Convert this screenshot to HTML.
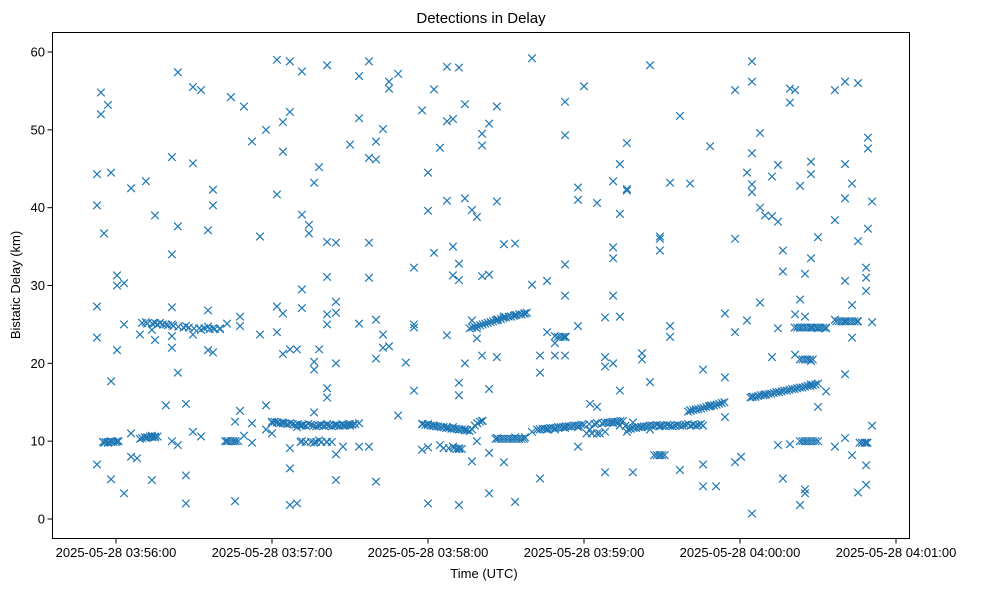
<!DOCTYPE html>
<html><head><meta charset="utf-8"><style>
body{margin:0;background:#fff;}
svg{display:block;font-family:"Liberation Sans","DejaVu Sans",sans-serif;}
</style></head><body>
<svg id="chart" width="989" height="590">
<rect x="0" y="0" width="989" height="590" fill="#fff"/>
<g id="marks"></g>
<rect x="52.5" y="32.5" width="857" height="506" fill="none" stroke="#000" stroke-width="1"/>
<g id="xaxis"></g>
<g id="yaxis"></g>
<text x="481" y="23" text-anchor="middle" font-size="15">Detections in Delay</text>
<text x="484" y="578" text-anchor="middle" font-size="13">Time (UTC)</text>
<text transform="translate(20,285) rotate(-90)" text-anchor="middle" font-size="13">Bistatic Delay (km)</text>
</svg>
<script>
// times in seconds after 2025-05-28 03:55:00, delays in km
const colTimes = [52.7,54.2,55.4,56.9,58.1,60.4,63.1,65.8,68.1,69.2,71.5,73.8,75.0,76.9,79.2,81.5,83.8,86.9,89.6,92.7,95.4,97.3,100.0,102.7,104.2,105.8,107.7,109.2,112.3,115.4,117.7,120.0,121.9,124.2,126.9,129.6,131.5,134.2,136.2,138.1,141.2,144.6,147.3,150.0,153.5,157.3,160.0,162.7,165.0,168.5,171.5,174.6,177.7,180.0,182.3,184.6,187.3,189.6,191.9,194.2,196.9,198.8,200.8,203.5,206.5,209.2,213.5,217.3,220.0,223.1,225.8,228.8,232.7,237.7,240.0,242.3,245.0,248.1,251.2,253.8,256.5,258.8,262.3,265.4,269.2,273.1,276.9,280.8,285.8,288.5,290.8,294.2,298.1,300.4,302.7,304.6,307.7,309.6,312.3,314.6,316.5,319.2,321.2,323.1,325.0,327.3,330.0,333.1,336.5,340.4,343.1,345.4,348.5,349.2,350.8];
const colDelays = [[40.3,27.3,23.3,7.0,44.3],[54.8,52],[36.7,9.8],[53.2,9.8],[44.5,17.7,5.1,9.9],[31.3,30.0,21.7,10.0],[3.3,30.3,25.0],[42.5,8.0,11.0],[7.8],[23.7,10.3],[43.4,25.3,10.4],[5.0,10.7,24.3],[39.0,23.0,25.2,10.5],[25.2],[14.6,25.0],[46.5,34.0,27.2,25.0,23.5,22.0,10.0],[57.4,37.6,18.8,9.5],[5.6,14.8,2.0,24.8],[55.5,45.7,11.2,23.7],[55.1,10.6,24.3],[26.8,24.7,37.1,21.7],[42.3,40.3,24.5,21.4],[24.5],[25.1,10.0],[54.2],[10.0,2.3,12.5],[26.0,13.9,24.8],[53.0,10.7],[12.3,48.5,9.8],[36.3,23.7],[14.6,11.5,50.0],[11.0,12.5],[59.0,41.7,27.3,24.0,12.4],[51.0,47.2,26.4,21.2,12.3],[58.8,52.3,1.8,6.5,9.1,21.8],[21.8,11.8,2.0],[57.5,39.1,29.5,27.1,12.0,10.0],[37.8,36.7],[43.2,20.2,19.2,13.7,9.8],[45.2,21.8,10.1,12.0],[35.6,31.1,58.3,26.3,25.0,16.8,15.6,12.2,9.9],[27.9,26.5,35.5,20.0,12.1,5.0,8.3],[12.0,9.3],[48.1,12.2],[51.5,56.9,25.1,12.3,9.3],[58.8,46.4,35.5,31.0,9.3],[48.5,46.2,25.6,20.6,4.8],[50.1,23.7,22.0],[55.3,56.2,22.2],[57.2,13.3],[20.1],[32.3,25.0,24.6,16.5],[52.5,8.9,12.2],[44.5,39.6,2.0,12.2,9.2],[55.2,34.2,12.0],[47.7,9.5],[58.1,51.1,23.6,40.9,11.8],[51.4,35.0,31.3,11.8,9.3],[58.0,32.8,30.7,11.5,9.0,17.5,1.8,15.9],[53.3,41.2,20.0,11.5],[39.7,25.5,7.4],[38.8,24.5,23.2,10.0],[49.5,48.0,31.2,21.0,12.6],[50.8,31.4,16.7,3.3,8.5],[53.0,40.8,25.6,20.8,10.4],[35.3,26.0,7.3],[35.4,2.2,26.2,10.5],[26.4,10.5],[59.2,30.1,11.2],[5.2,21.0,18.8],[30.6,24.0,11.5],[22.6,21.0,11.5,23.5],[53.6,49.3,32.7,28.7,23.4,21.0,11.7],[42.6,41.0,24.8,9.3,11.8],[55.6],[14.8,11.5],[40.6,14.4,11.0],[25.9,20.8,19.6,6.0,11.2],[43.4,34.9,33.5,28.7,20.0,12.3],[39.2,45.6,26.0,16.5,12.0],[48.3,42.4,42.2,11.2],[6.0,12.4],[21.3,20.5,11.8],[58.3,17.6,11.5],[36.0,34.5,36.3,8.2,12.0],[24.8,23.4,43.2,12.0],[51.8,6.3],[43.1,14.0],[19.2,7.0,4.2,12.0],[47.9,14.5],[4.2],[26.4,18.2,13.1],[55.1,36.0,24.0,7.3],[8.0],[44.5,25.5],[58.8,56.2,47.0,43.0,42.0,0.7,15.7],[49.6,40.0,27.8],[39.0,16.0],[44.0,38.9,20.8],[45.5,38.2,24.5,9.5],[34.5,31.8,5.2],[53.5,55.3,9.6],[55.1,21.1,26.3],[42.8,28.2,24.6,1.8],[31.5,26.0,24.6,3.8,3.3,10.0],[45.9,44.3,33.5,20.3,24.6,17.3],[36.2,14.4,24.5],[16.4,24.5],[55.1,38.4,25.6,9.3],[56.2,45.6,41.2,30.6,25.4,18.6,10.4],[43.1,27.5,23.3,8.2],[56.0,35.7,25.4,3.4],[32.3,31.0,29.3,6.9,4.4,9.8],[49.0,47.6,37.3],[40.8,25.3,12.0]];
const bandTimes = [55,56,57,58,59,60,61, 70,71,72,73,74,75,76, 70,72,74,76,78,80,82,84,86,88,90,92,94,96,98,100, 102,103,104,105,106,107,
120,121,122,123,124,125,126,127,128,129,130,131,132,133,134,135,136,137,138,139,140,141,142,143,144,145,146,147,148,149,150,151,152,
131,133,135,137,139,141,143,
178,179,180,181,182,183,184,185,186,187,188,189,190,191,192,193,194,195,196,197,198,199,200,201,
186,188,190,192, 206,207,208,209,210,211,212,213,214,215,216,217,
196,197,198,199,200,201,202,203,204,205,206,207,208,209,210,211,212,213,214,215,216,217,218,
222,223,224,225,226,227,228,229,230,231,232,233,234,235,236,237,238,239,240,241,242,243,244,245,246,247,248,249,250,251,252,253,254,255,256,257,258,259,260,261,262,263,264,265,266,267,268,
269,270,271,272,273,274,275,276,277,278,279,280,281,282,283,284,285,
280,281,282,283,284,285,286,287,288,289,290,291,292,293,294,
304,305,306,307,308,309,310,311,312,313,314,315,316,317,318,319,320,321,322,323,324,325,326,327,328,329,330,
323,324,325,326,327,328,329,330, 321,322,323,324,325,326,327,328,329,330,331,332,333,
337,338,339,340,341,342,343,344,345, 346,347,348,349, 323,324,325,326,327,328, 267,268,269,270,271, 230,231,232,233, 191,192,193];
const bandDelays = [9.9,9.9,9.9,10.0,9.9,9.9,10.0, 10.4,10.5,10.5,10.6,10.5,10.6,10.6, 25.2,25.1,25.1,25.0,25.0,24.9,24.8,24.7,24.6,24.6,24.5,24.5,24.5,24.4,24.4,24.4, 10.0,10.0,10.0,10.0,10.0,10.0,
12.4,12.5,12.4,12.3,12.4,12.3,12.2,12.3,12.2,12.1,12.2,12.0,12.1,12.0,12.2,12.1,12.0,11.9,12.0,12.1,12.0,12.1,12.0,11.9,12.0,12.1,12.0,12.2,12.0,12.1,12.0,12.1,12.2,
9.9,9.9,9.9,9.9,9.9,9.9,9.9,
12.2,12.1,12.1,12.0,12.0,11.9,11.9,11.8,11.8,11.7,11.7,11.6,11.6,11.6,11.5,11.5,11.4,11.4,11.3,11.5,12.0,12.3,12.5,12.6,
9.1,9.1,9.1,9.1, 10.3,10.3,10.3,10.3,10.3,10.3,10.3,10.3,10.3,10.3,10.3,10.3,
24.5,24.6,24.7,24.8,24.9,25.0,25.1,25.2,25.3,25.4,25.5,25.6,25.7,25.8,25.9,26.0,26.0,26.1,26.2,26.3,26.3,26.4,26.5,
11.5,11.5,11.6,11.6,11.6,11.7,11.7,11.7,11.8,11.8,11.8,11.9,11.9,11.9,12.0,12.0,12.0,12.1,12.1,11.0,12.2,11.0,12.2,12.3,11.0,12.3,12.4,12.4,12.4,12.5,12.5,12.5,12.6,12.6,12.0,11.5,11.6,11.7,11.7,11.8,11.8,11.9,11.9,12.0,12.0,12.0,12.1,
11.9,12.0,12.0,12.1,12.0,11.9,12.0,12.1,12.0,12.0,12.1,12.2,12.0,12.1,12.0,12.1,12.2,
13.8,13.9,14.0,14.1,14.1,14.2,14.3,14.4,14.5,14.6,14.6,14.7,14.8,14.9,15.0,
15.6,15.7,15.7,15.8,15.9,15.9,16.0,16.1,16.1,16.2,16.3,16.3,16.4,16.5,16.5,16.6,16.7,16.7,16.8,16.9,16.9,17.0,17.1,17.1,17.2,17.3,17.4,
10.0,10.0,10.0,10.0,10.0,10.0,10.0,10.0, 24.6,24.6,24.6,24.6,24.6,24.6,24.6,24.6,24.6,24.6,24.6,24.6,24.6,
25.4,25.4,25.4,25.4,25.4,25.4,25.4,25.4,25.4, 9.8,9.8,9.8,9.8, 20.5,20.5,20.5,20.5,20.5,20.5, 8.2,8.2,8.2,8.2,8.2, 23.4,23.4,23.4,23.4, 9.0,9.0,9.0];
const yTicks = [0,10,20,30,40,50,60];
const xTickTimes = [60,120,180,240,300,360];
const xTickLabels = ["2025-05-28 03:56:00","2025-05-28 03:57:00","2025-05-28 03:58:00","2025-05-28 03:59:00","2025-05-28 04:00:00","2025-05-28 04:01:00"];

const NS='http://www.w3.org/2000/svg';
function xs(t){return 116+(t-60)*2.6;}
function ys(d){return 519-d*7.783;}
const marks=document.getElementById('marks');
function marker(t,d){
  const x=xs(t),y=ys(d),r=3.8;
  const p=document.createElementNS(NS,'path');
  p.setAttribute('d',`M${x-r},${y-r}L${x+r},${y+r}M${x-r},${y+r}L${x+r},${y-r}`);
  p.setAttribute('stroke','#1f77b4');p.setAttribute('stroke-width','1.2');p.setAttribute('fill','none');
  
  
  marks.appendChild(p);
}
colTimes.forEach((t,i)=>colDelays[i].forEach(d=>marker(t,d)));
bandTimes.forEach((t,i)=>marker(t,bandDelays[i]));

const xa=document.getElementById('xaxis');
xTickTimes.forEach((t,i)=>{
  const x=xs(t);
  const l=document.createElementNS(NS,'line');
  l.setAttribute('x1',x);l.setAttribute('x2',x);l.setAttribute('y1',539);l.setAttribute('y2',543.5);l.setAttribute('stroke','#000');
  
  
  xa.appendChild(l);
  const tx=document.createElementNS(NS,'text');
  tx.setAttribute('x',x);tx.setAttribute('y',557);tx.setAttribute('text-anchor','middle');tx.setAttribute('font-size','13');
  tx.textContent=xTickLabels[i];
  
  
  xa.appendChild(tx);
});
const ya=document.getElementById('yaxis');
yTicks.forEach(v=>{
  const y=ys(v);
  const l=document.createElementNS(NS,'line');
  l.setAttribute('x1',47.5);l.setAttribute('x2',52);l.setAttribute('y1',y);l.setAttribute('y2',y);l.setAttribute('stroke','#000');
  
  
  ya.appendChild(l);
  const tx=document.createElementNS(NS,'text');
  tx.setAttribute('x',45);tx.setAttribute('y',y+4.5);tx.setAttribute('text-anchor','end');tx.setAttribute('font-size','13');
  tx.textContent=v;
  
  
  ya.appendChild(tx);
});
</script>
</body></html>
